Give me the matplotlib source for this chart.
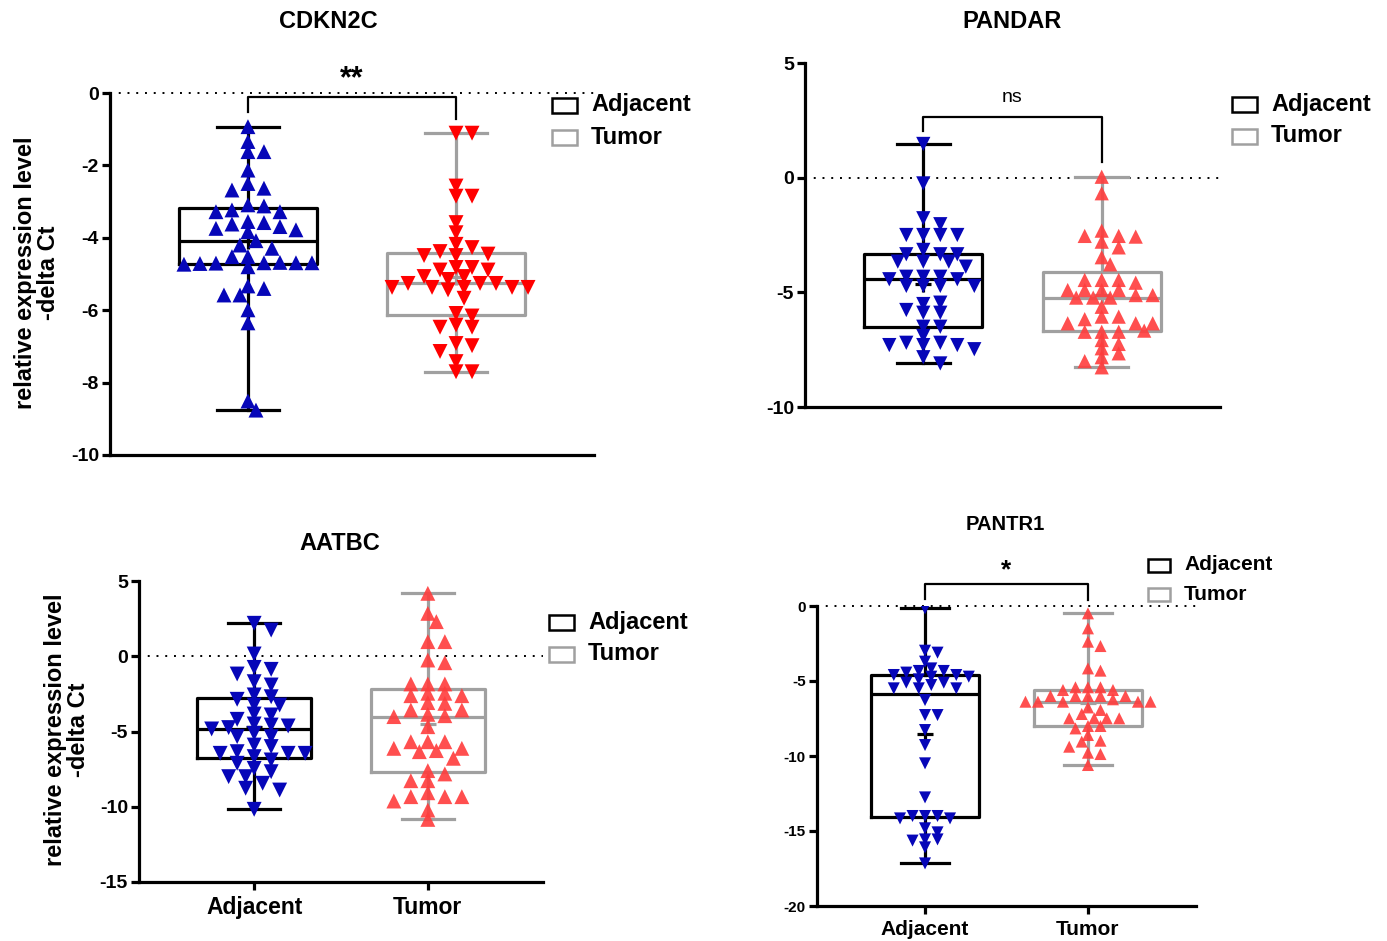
import numpy as np
import matplotlib
matplotlib.use('Agg')
import matplotlib.pyplot as plt
from matplotlib.patches import Rectangle

plt.rcParams['font.family'] = ['Liberation Sans', 'DejaVu Sans']

W, H = 1387, 941

groups = ['Adjacent', 'Tumor']

# -delta Ct values
cdkn2c_adj = [-0.93, -1.34, -1.62, -1.62, -2.13, -2.50, -2.63, -2.68, -3.09, -3.12,
              -3.23, -3.28, -3.28, -3.55, -3.58, -3.62, -3.69, -3.74, -3.78, -3.83,
              -4.08, -4.20, -4.29, -4.52, -4.52, -4.69, -4.68, -4.70, -4.69, -4.71,
              -4.69, -4.73, -4.80, -5.33, -5.40, -5.58, -5.58, -5.99, -6.35, -8.51, -8.76]
cdkn2c_tum = [-1.11, -1.11, -2.57, -2.85, -2.85, -3.58, -3.86, -4.18, -4.27, -4.38,
              -4.45, -4.49, -4.49, -4.82, -4.82, -4.89, -4.89, -5.07, -5.07, -5.15,
              -5.26, -5.26, -5.26, -5.37, -5.37, -5.37, -5.37, -5.37, -5.44, -5.67,
              -6.09, -6.16, -6.41, -6.47, -6.47, -6.92, -6.98, -7.14, -7.42, -7.70, -7.70]

pandar_adj = [1.47, -0.25, -1.77, -2.03, -2.5, -2.5, -2.5, -2.5, -3.15, -3.34,
              -3.34, -3.34, -3.66, -3.66, -3.66, -3.88, -4.32, -4.32, -4.32, -4.43,
              -4.43, -4.72, -4.72, -4.72, -4.72, -5.51, -5.45, -5.89, -5.89, -5.77,
              -6.5, -6.5, -6.9, -7.2, -7.2, -7.3, -7.3, -7.3, -7.48, -7.83, -8.1]
pandar_tum = [0.04, -0.68, -2.31, -2.54, -2.54, -2.57, -2.79, -3.04, -3.47, -3.78,
              -4.46, -4.46, -4.46, -4.58, -4.9, -4.9, -4.9, -4.9, -5.12, -5.12,
              -5.23, -5.23, -5.23, -5.63, -6.06, -6.06, -6.17, -6.35, -6.35, -6.35,
              -6.72, -6.72, -6.72, -6.67, -7.08, -7.25, -7.44, -7.66, -7.83, -8.0, -8.27]

aatbc_adj = [2.19, 1.74, 0.15, -0.74, -0.87, -1.18, -1.69, -1.91, -2.57, -2.69,
             -2.86, -3.24, -3.24, -3.84, -3.90, -4.19, -4.50, -4.57, -4.63, -4.74,
             -4.83, -5.12, -5.34, -5.34, -5.90, -6.00, -6.34, -6.45, -6.45, -6.45,
             -6.67, -6.89, -7.11, -7.45, -7.67, -8.00, -8.00, -8.44, -8.77, -8.89, -10.17]
aatbc_tum = [4.18, 2.85, 2.30, 0.97, 0.97, -0.25, -0.43, -1.84, -1.84, -1.84,
             -2.46, -2.46, -2.62, -2.62, -3.08, -3.13, -3.57, -3.57, -3.86, -3.95,
             -4.01, -4.68, -5.68, -5.68, -5.68, -6.12, -6.12, -6.27, -6.34, -6.78,
             -7.60, -7.82, -8.27, -8.27, -9.07, -9.33, -9.33, -9.33, -9.62, -10.22, -10.84]

pantr1_adj = [-0.16, -2.98, -3.11, -3.71, -4.16, -4.33, -4.33, -4.44, -4.60, -4.60,
              -4.71, -4.71, -4.89, -5.11, -5.11, -5.27, -5.49, -5.49, -5.49, -6.27,
              -7.27, -7.27, -8.27, -9.27, -10.49, -12.76, -14.0, -14.0, -14.0, -14.16,
              -14.16, -14.82, -15.09, -15.56, -15.56, -15.64, -16.09, -17.16]
pantr1_tum = [-0.49, -1.49, -2.38, -2.67, -4.16, -4.31, -5.42, -5.42, -5.42, -5.60,
              -5.60, -6.0, -6.0, -6.0, -6.0, -6.0, -6.22, -6.38, -6.38, -6.38,
              -6.38, -6.38, -6.76, -6.93, -7.2, -7.49, -7.49, -7.49, -7.49, -8.0,
              -8.0, -8.16, -8.6, -8.98, -9.04, -9.38, -9.78, -9.87, -10.6]

BLUE = '#0606B8'
RED1 = '#FF0000'
RED2 = '#FF3C3C'
GRAY = '#A0A0A0'

fig = plt.figure(figsize=(W / 100, H / 100), dpi=100)


def px_axes(left, right, top, bottom):
    return fig.add_axes([left / W, 1 - bottom / H, (right - left) / W, (bottom - top) / H])


def swarm(ax, xc, vals, spacing, vgap):
    # simple beeswarm: offsets in pixels, converted back through the axes transform
    pts = ax.transData.transform([(xc, v) for v in vals])
    placed = []
    xs = []
    cands = [0.0]
    for i in range(1, 24):
        cands += [i * spacing / 2, -i * spacing / 2]
    for (x0, y0) in pts:
        for c in cands:
            ok = True
            for (px, py) in placed:
                if ((x0 + c - px) / spacing) ** 2 + ((y0 - py) / vgap) ** 2 < 1:
                    ok = False
                    break
            if ok:
                break
        placed.append((x0 + c, y0))
        xs.append(ax.transData.inverted().transform((x0 + c, y0))[0])
    return xs


def stats(vals):
    v = np.array(vals)
    q1, med, q3 = np.percentile(v, [25, 50, 75], method='weibull')
    return dict(med=med, q1=q1, q3=q3, whislo=v.min(), whishi=v.max(),
                mean=v.mean(), fliers=[])


def draw_panel(ax, adj, tum, ylim, yticks, mk_adj, mk_tum, red, fs_tick, msize, spacing, vgap):
    ax.set_xlim(-0.663, 1.663)
    ax.set_ylim(*ylim)
    for k, (vals, col) in enumerate([(adj, 'black'), (tum, GRAY)]):
        ax.bxp([stats(vals)], positions=[k], widths=0.66, capwidths=0.3,
               showmeans=True, showfliers=False, patch_artist=False, manage_ticks=False,
               boxprops=dict(color=col, lw=2.3),
               whiskerprops=dict(color=col, lw=2.3),
               capprops=dict(color=col, lw=2.3),
               medianprops=dict(color=col, lw=2.3),
               meanprops=dict(marker='+', markeredgecolor=col, markersize=11, mew=2.3),
               zorder=2)
    xa = swarm(ax, 0, adj, spacing, vgap)
    xt = swarm(ax, 1, tum, spacing, vgap)
    ax.scatter(xa, adj, marker=mk_adj, s=msize, color=BLUE, edgecolors='none', zorder=3)
    ax.scatter(xt, tum, marker=mk_tum, s=msize, color=red, edgecolors='none',
               alpha=0.9 if red == RED2 else 1, zorder=3)
    ax.axhline(0, color='black', lw=1.4, ls=(0, (1, 3.5)), zorder=1, clip_on=False)
    for s in ['top', 'right']:
        ax.spines[s].set_visible(False)
    for s in ['left', 'bottom']:
        ax.spines[s].set_linewidth(2.3)
    ax.set_yticks(yticks)
    ax.set_yticklabels([str(t) for t in yticks], fontweight='bold', fontsize=fs_tick)
    ax.tick_params(axis='y', direction='out', length=6, width=2.3, pad=2)


def bracket(ax, y, yl, yr, label, fs, weight, ty):
    ax.plot([0, 0, 1, 1], [yl, y, y, yr], color='black', lw=1.6, clip_on=False, zorder=4)
    ax.text(0.5, ty, label, ha='center', va='center', fontsize=fs, fontweight=weight,
            clip_on=False)


def legend(x, y1, y2, fs, rw, rh):
    for yy, col, lab in [(y1, 'black', groups[0]), (y2, GRAY, groups[1])]:
        fig.add_artist(Rectangle((x / W, 1 - (yy + rh / 2) / H), rw / W, rh / H,
                                 transform=fig.transFigure, fill=False, edgecolor=col, lw=1.8))
        fig.text((x + rw + 14) / W, 1 - yy / H, lab, ha='left', va='center',
                 fontsize=fs, fontweight='bold')


# CDKN2C
ax1 = px_axes(110, 594, 93, 455)
draw_panel(ax1, cdkn2c_adj, cdkn2c_tum, (-10, 0), [0, -2, -4, -6, -8, -10],
           '^', 'v', RED1, 14, 115, 16, 10)
ax1.set_xticks([])
bracket(ax1, -0.11, -0.52, -0.72, '**', 22, 'bold', 0.37)
fig.text(328 / W, 1 - 22 / H, 'CDKN2C', ha='center', va='center', fontsize=17, fontweight='bold')
fig.text(37 / W, 1 - 273 / H, 'relative expression level\n-delta Ct', rotation=90,
         ha='center', va='center', fontsize=17, fontweight='bold', multialignment='center',
         linespacing=1.0)
legend(552, 105, 137, 17, 25, 15)

# PANDAR
ax2 = px_axes(805, 1220, 63, 407)
draw_panel(ax2, pandar_adj, pandar_tum, (-10, 5), [5, 0, -5, -10],
           'v', '^', RED2, 14, 105, 17, 8)
ax2.set_xticks([])
bracket(ax2, 2.65, 2.04, 0.69, 'ns', 14, 'normal', 3.5)
fig.text(1012 / W, 1 - 22 / H, 'PANDAR', ha='center', va='center', fontsize=17, fontweight='bold')
legend(1232, 104, 136, 17, 25, 15)

# AATBC
ax3 = px_axes(139, 543, 581, 882)
draw_panel(ax3, aatbc_adj, aatbc_tum, (-15, 5), [5, 0, -5, -10, -15],
           'v', '^', RED2, 14, 115, 17, 9)
ax3.set_xticks([0, 1])
ax3.set_xticklabels(groups, fontsize=16.5, fontweight='bold')
ax3.tick_params(axis='x', direction='out', length=6, width=2.3, pad=4)
fig.text(340 / W, 1 - 543 / H, 'AATBC', ha='center', va='center', fontsize=17, fontweight='bold')
fig.text(67 / W, 1 - 730 / H, 'relative expression level\n-delta Ct', rotation=90,
         ha='center', va='center', fontsize=17, fontweight='bold', multialignment='center',
         linespacing=1.0)
legend(549, 622, 654, 17, 25, 15)

# PANTR1
ax4 = px_axes(817, 1196, 606, 906)
draw_panel(ax4, pantr1_adj, pantr1_tum, (-20, 0), [0, -5, -10, -15, -20],
           'v', '^', RED2, 11, 75, 12.5, 7)
ax4.set_xticks([0, 1])
ax4.set_xticklabels(groups, fontsize=15, fontweight='bold')
ax4.tick_params(axis='x', direction='out', length=6, width=2.3, pad=4)
bracket(ax4, 1.47, 0.5, 0.4, '*', 19, 'bold', 2.4)
fig.text(1005 / W, 1 - 525 / H, 'PANTR1', ha='center', va='center', fontsize=14.5, fontweight='bold')
legend(1148, 565, 594, 15, 22, 13)

fig.savefig('out.png', dpi=100)
